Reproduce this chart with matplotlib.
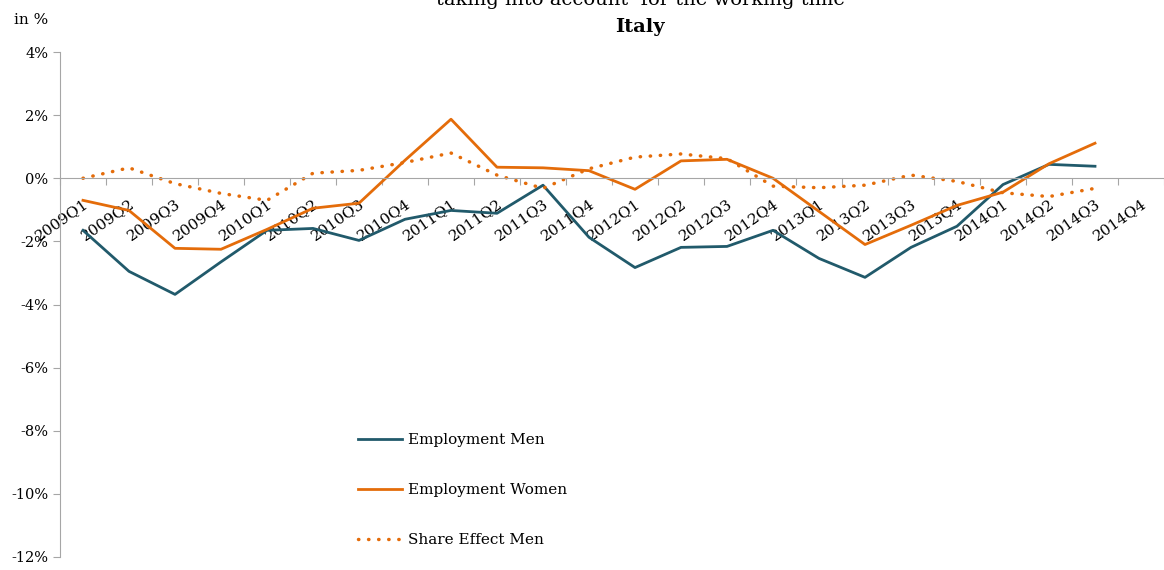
import matplotlib.pyplot as plt
from matplotlib.ticker import FixedLocator, FuncFormatter

quarters = [f"{y}Q{q}" for y in range(2009, 2015) for q in range(1, 5)]

# values in % (2014Q4 has no data)
employment_men = [-1.65, -2.95, -3.68, -2.65, -1.65, -1.59, -1.97, -1.30, -1.02, -1.11,
                  -0.22, -1.87, -2.83, -2.19, -2.16, -1.65, -2.54, -3.14, -2.19, -1.52,
                  -0.20, 0.44, 0.38]
employment_women = [-0.70, -1.02, -2.22, -2.25, -1.62, -0.95, -0.79, 0.57, 1.87, 0.35,
                    0.33, 0.24, -0.35, 0.55, 0.60, 0.00, -1.05, -2.10, -1.49, -0.86,
                    -0.44, 0.46, 1.11]
share_effect_men = [0.00, 0.33, -0.17, -0.48, -0.70, 0.16, 0.25, 0.50, 0.80, 0.10,
                    -0.32, 0.30, 0.67, 0.77, 0.62, -0.25, -0.30, -0.22, 0.10, -0.10,
                    -0.46, -0.58, -0.32]

teal = "#215A6B"
orange = "#E46C0A"
grey = "#A6A6A6"
font = "DejaVu Serif"
plt.rcParams["font.family"] = font

W, H = 1164, 570
fig = plt.figure(figsize=(W / 100, H / 100), dpi=100)
ax = fig.add_axes([60 / W, 13 / H, 1104 / W, 505 / H])

x = range(len(employment_men))
ax.plot(x, employment_men, color=teal, lw=2, label="Employment Men")
ax.plot(x, employment_women, color=orange, lw=2, label="Employment Women")
ax.plot(x, share_effect_men, color=orange, lw=2.5, ls=(0, (0.1, 2.8)),
        dash_capstyle="round", label="Share Effect Men")

ax.set_xlim(-0.5, len(quarters) - 0.5)
ax.set_ylim(-12, 4)
ax.set_yticks(range(-12, 5, 2))
ax.yaxis.set_major_formatter(FuncFormatter(lambda v, p: f"{v:.0f}%"))

for s in ["top", "right"]:
    ax.spines[s].set_visible(False)
ax.spines["left"].set_color(grey)
ax.spines["bottom"].set_color(grey)
ax.spines["bottom"].set_position(("data", 0))
ax.tick_params(axis="y", colors=grey, length=5, labelcolor="black", labelsize=10.5)

ax.xaxis.set_major_locator(FixedLocator([i - 0.5 for i in range(len(quarters) + 1)]))
ax.xaxis.set_major_formatter(FuncFormatter(lambda v, p: ""))
ax.xaxis.set_minor_locator(FixedLocator(list(range(len(quarters)))))
ax.set_xticklabels(quarters, minor=True, rotation=35, ha="right",
                   rotation_mode="anchor", fontsize=11)
ax.tick_params(axis="x", which="major", colors=grey, length=5)
ax.tick_params(axis="x", which="minor", length=0, pad=13)

leg = ax.legend(loc="center left", bbox_to_anchor=(358 / W, 1 - 490 / H),
                bbox_transform=fig.transFigure, frameon=False, fontsize=11,
                labelspacing=2.35, handlelength=2.9, handletextpad=0.4,
                borderpad=0, borderaxespad=0)

fig.text(640 / W, 1 - 5 / H, "taking into account  for the working time",
         ha="center", va="baseline", fontsize=14)
fig.text(640 / W, 1 - 32 / H, "Italy", ha="center", va="baseline",
         fontsize=14, fontweight="bold")
fig.text(14 / W, 1 - 24 / H, "in %", ha="left", va="baseline", fontsize=11)

fig.savefig("out.png", dpi=100)
